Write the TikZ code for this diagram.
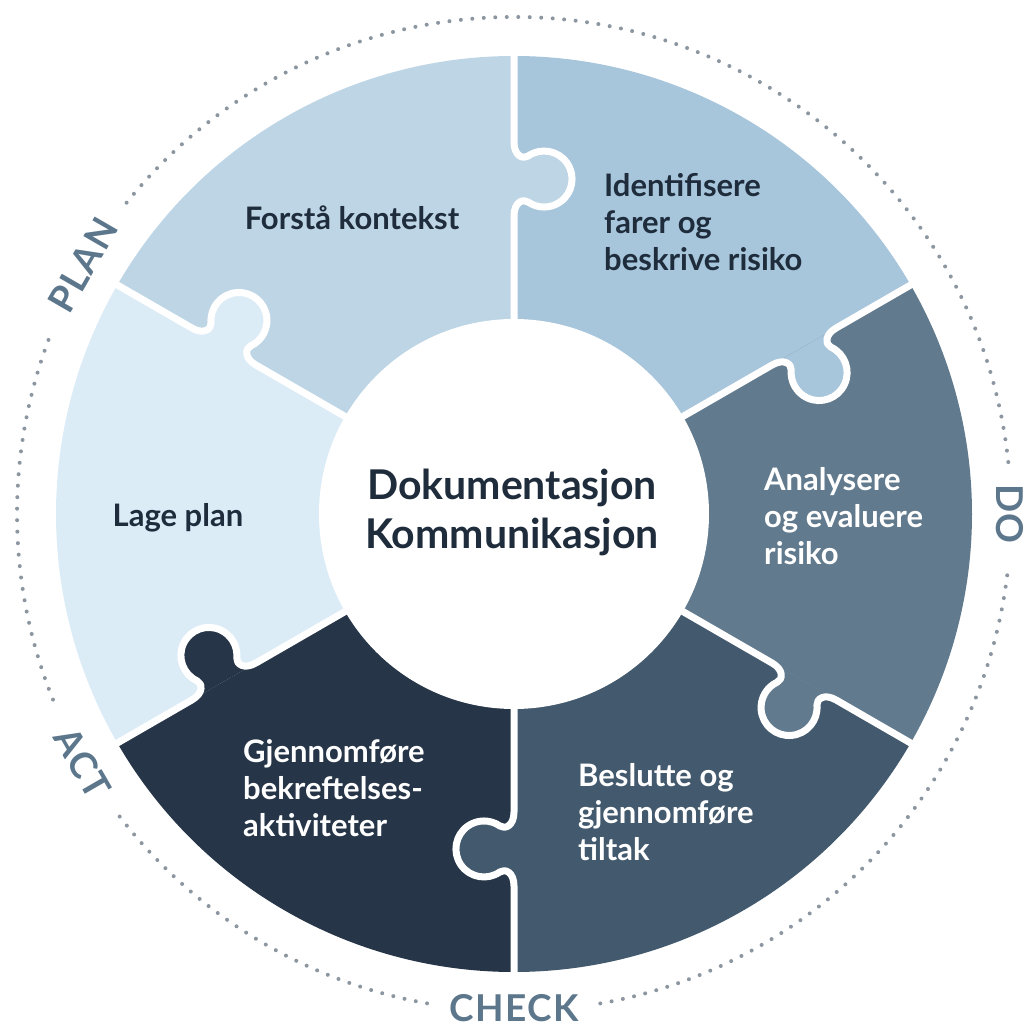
\documentclass[tikz,border=0pt]{standalone}
\usepackage{fontspec}
\setmainfont{Lato}
\definecolor{cForsta}{RGB}{189,213,229}
\definecolor{cIdent}{RGB}{167,197,219}
\definecolor{cAnal}{RGB}{97,122,141}
\definecolor{cBesl}{RGB}{67,89,109}
\definecolor{cGjen}{RGB}{38,53,71}
\definecolor{cLage}{RGB}{220,236,247}
\definecolor{textdark}{RGB}{30,44,60}
\definecolor{labelc}{RGB}{92,118,140}
\definecolor{dotc}{RGB}{140,150,160}
\begin{document}
\begin{tikzpicture}[x=1pt,y=1pt,
  segtext/.style={font=\fontsize{31}{37}\selectfont\bfseries, inner sep=0pt, align=left},
  centertext/.style={font=\fontsize{41}{49}\selectfont\bfseries, inner sep=0pt, align=center, text=textdark},
  phaselabel/.style={font=\fontsize{37}{40}\selectfont\bfseries\addfontfeatures{LetterSpace=4}, inner sep=0pt, text=labelc},
  dotring/.style={dotc, line width=4pt, line cap=round, dash pattern=on 0pt off 11.5pt},
  gapline/.style={white, line width=7pt, line join=round}]
\useasboundingbox (-514,-513) rectangle (509,514);
% segments
\foreach \a/\c in {30/cIdent, 90/cForsta, 150/cLage, 210/cGjen, 270/cBesl, 330/cAnal}{
  \fill[\c] (0,0) -- (\a:458) arc[start angle=\a, end angle=\a+60, radius=458pt] -- cycle;
}
% knobs (owner colour protrudes clockwise)
\foreach \a/\c in {30/cIdent, 90/cForsta, 150/cLage, 210/cGjen, 270/cBesl, 330/cAnal}{
  \begin{scope}[rotate=\a]
    \fill[\c] (372,0) .. controls (358,0) and (354.5,-9.1) .. (357.9,-14)
      arc[start angle=35, end angle=-215, radius=28pt]
      .. controls (315.5,-9.1) and (312,0) .. (298,0) -- cycle;
  \end{scope}
}
% white gaps
\foreach \a in {30,90,150,210,270,330}{
  \begin{scope}[rotate=\a]
    \draw[gapline] (464,0) -- (372,0) .. controls (358,0) and (354.5,-9.1) .. (357.9,-14)
      arc[start angle=35, end angle=-215, radius=28pt]
      .. controls (315.5,-9.1) and (312,0) .. (298,0) -- (180,0);
  \end{scope}
}
% centre disk
\fill[white] (0,0) circle[radius=195pt];
% dotted ring
\draw[dotring] (6:497) arc[start angle=6, end angle=141.5, radius=497pt];
\draw[dotring] (159.5:497) arc[start angle=159.5, end angle=202.5, radius=497pt];
\draw[dotring] (217.5:497) arc[start angle=217.5, end angle=260, radius=497pt];
\draw[dotring] (280:497) arc[start angle=280, end angle=354, radius=497pt];
% phase labels
\node[phaselabel, rotate=60] (plan) at (150:498) {PLAN};
\node[phaselabel, rotate=-90] (do) at (0:496) {DO};
\node[phaselabel] (check) at (270:494) {CHECK};
\node[phaselabel, rotate=-60] (act) at (210:498) {ACT};
% segment texts
\node[segtext, text=textdark] (forsta) at (-162,296) {Forstå kontekst};
\node[segtext, text=textdark, anchor=west] (ident) at (90,292) {Identifisere\\farer og\\beskrive risiko};
\node[segtext, text=white, anchor=west] (anal) at (250,-2) {Analysere\\og evaluere\\risiko};
\node[segtext, text=white, anchor=west] (besl) at (64,-298) {Beslutte og\\gjennomføre\\tiltak};
\node[segtext, text=white, anchor=west] (gjen) at (-271,-274) {Gjennomføre\\bekreftelses-\\aktiviteter};
\node[segtext, text=textdark] (lage) at (-336,-4) {Lage plan};
\node[centertext] (centre) at (-2,2) {Dokumentasjon\\Kommunikasjon};
\end{tikzpicture}
\end{document}
